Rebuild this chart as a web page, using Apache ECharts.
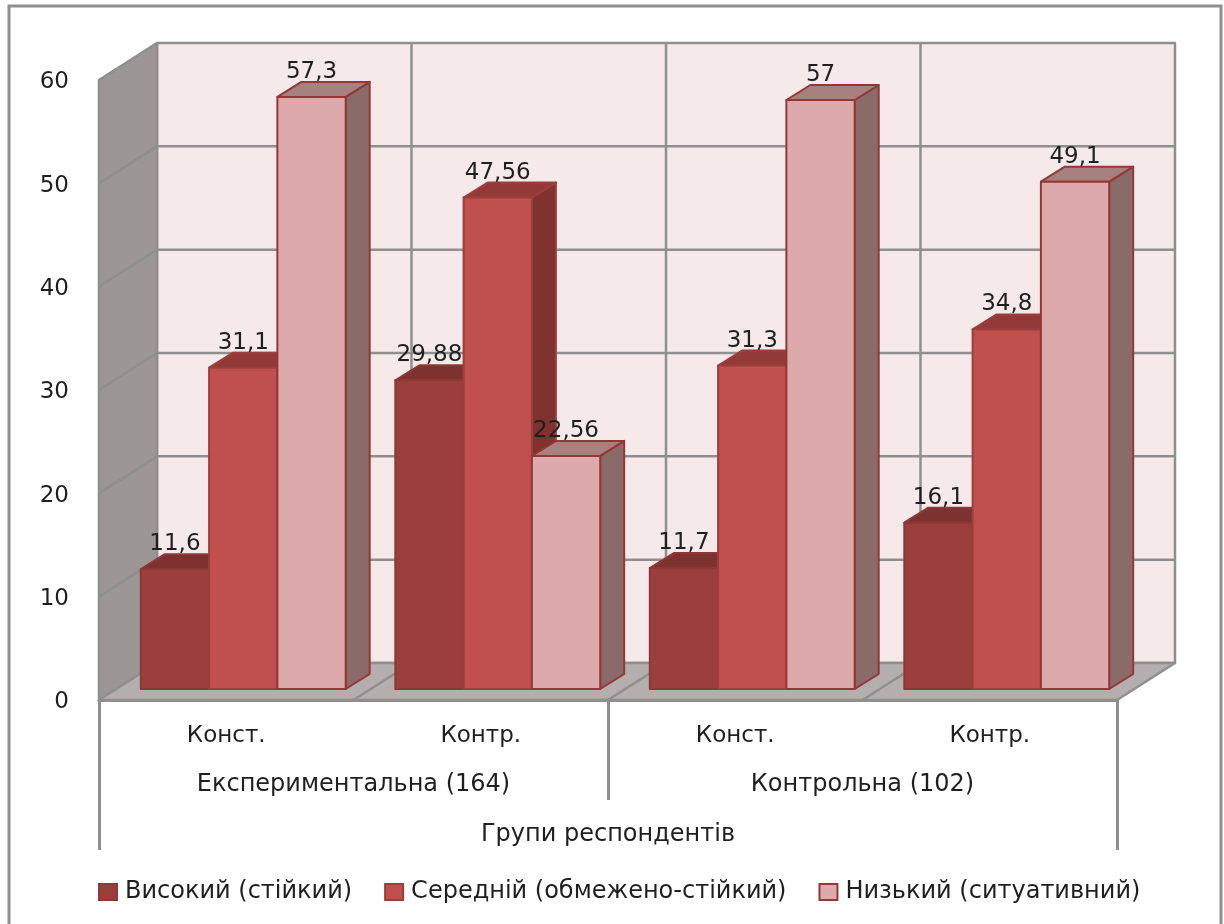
<!DOCTYPE html>
<html>
<head>
<meta charset="utf-8">
<style>html,body{margin:0;padding:0;background:#fff}#chart{width:1224px;height:924px}</style>
<script src="https://cdn.jsdelivr.net/npm/echarts@6/dist/echarts.min.js"></script>
</head>
<body>
<div id="chart"></div>
<script>
// Рівні за групами респондентів
const stages = ['Конст.', 'Контр.', 'Конст.', 'Контр.'];
const groups = ['Експериментальна (164)', 'Контрольна (102)'];
const axisTitle = ['Групи респондентів'];
const highValues = [11.6, 29.88, 11.7, 16.1];
const mediumValues = [31.1, 47.56, 31.3, 34.8];
const lowValues = [57.3, 22.56, 57, 49.1];
const seriesNames = ['Високий (стійкий)', 'Середній (обмежено-стійкий)', 'Низький (ситуативний)'];
const gridValues = [10, 20, 30, 40, 50, 60];

// Псевдо-3D: зсув задньої стінки, зсув стовпчиків від переднього краю та глибина стовпчиків
const WALL = [58, -37];
const BAR_SHIFT = [17, -11];
const BAR_DEPTH = [24, -15];
const GRID_LINE = '#8f8f8f';
const FONT = '"DejaVu Sans", sans-serif';
const TEXT = '#1f1f1f';

const palette = [
  { front: '#9b3f3d', side: '#7d3230', top: '#7d3230', edge: '#8c3836' },
  { front: '#c0504d', side: '#7f3230', top: '#933a38', edge: '#9b3f3d' },
  { front: '#dcaaaa', side: '#8b6b6a', top: '#a68180', edge: '#953735' }
];

const move = (p, d) => [p[0] + d[0], p[1] + d[1]];
const poly = (points, fill, stroke, width, z2) => ({
  type: 'polygon', z2: z2 || 0,
  shape: { points },
  style: { fill, stroke, lineWidth: width || 0, lineJoin: 'round' }
});
const seg = (a, b, z2) => ({
  type: 'line', z2: z2 || 1,
  shape: { x1: a[0], y1: a[1], x2: b[0], y2: b[1] },
  style: { stroke: GRID_LINE, lineWidth: 2.5 }
});

// Стіни та підлога, прив'язані до шкал осей
function renderWalls(params, api) {
  const band = api.size([1, 0])[0];
  const left = api.coord([0, 0])[0] - band / 2;
  const right = left + band * stages.length;
  const y0 = api.coord([0, 0])[1];
  const yMax = api.coord([0, 60])[1];
  const bl = [left, y0], tl = [left, yMax], br = [right, y0];
  const children = [
    poly([move(tl, WALL), [right + WALL[0], yMax + WALL[1]], move(br, WALL), move(bl, WALL)], '#f5e9e9', GRID_LINE, 2.5),
    poly([tl, move(tl, WALL), move(bl, WALL), bl], '#9c9696', GRID_LINE, 2.5),
    poly([bl, move(bl, WALL), move(br, WALL), br], '#b5aeae', GRID_LINE, 2.5)
  ];
  gridValues.slice(0, -1).forEach(v => {
    const y = api.coord([0, v])[1];
    children.push(seg([left, y], [left + WALL[0], y + WALL[1]]));
    children.push(seg([left + WALL[0], y + WALL[1]], [right + WALL[0], y + WALL[1]]));
  });
  for (let k = 1; k < stages.length; k++) {
    const x = left + band * k;
    children.push(seg([x + WALL[0], yMax + WALL[1]], [x + WALL[0], y0 + WALL[1]]));
    children.push(seg([x, y0], [x + WALL[0], y0 + WALL[1]]));
  }
  return { type: 'group', children };
}

// Один паралелепіпед стовпчика з підписом значення
function barRenderer(index) {
  const c = palette[index];
  return function (params, api) {
    const cat = api.value(0), val = api.value(1);
    const band = api.size([1, 0])[0];
    const w = band * 0.805 / 3;
    const center = api.coord([cat, 0])[0] + BAR_SHIFT[0];
    const x0 = center - w * 1.5 + w * index;
    const x1 = x0 + w;
    const yb = api.coord([cat, 0])[1] + BAR_SHIFT[1];
    const yt = api.coord([cat, val])[1] + BAR_SHIFT[1];
    const stroke = 2;
    return {
      type: 'group',
      children: [
        poly([[x1, yt], move([x1, yt], BAR_DEPTH), move([x1, yb], BAR_DEPTH), [x1, yb]], c.side, c.edge, stroke, 10),
        poly([[x0, yt], move([x0, yt], BAR_DEPTH), move([x1, yt], BAR_DEPTH), [x1, yt]], c.top, c.edge, stroke, 10),
        poly([[x0, yt], [x1, yt], [x1, yb], [x0, yb]], c.front, c.edge, stroke, 10),
        {
          type: 'text', z2: 100,
          style: {
            x: (x0 + x1) / 2, y: yt - 25,
            text: String(val).replace('.', ','),
            font: '23px ' + FONT, fill: TEXT,
            textAlign: 'center', textVerticalAlign: 'middle'
          }
        }
      ]
    };
  };
}

const valueSets = [highValues, mediumValues, lowValues];
const chart = echarts.init(document.getElementById('chart'), null, { renderer: 'canvas' });
const legendItem = (name, i) => ({
  name, icon: 'rect',
  itemStyle: { color: palette[i].front, borderColor: palette[i].edge, borderWidth: 2 }
});
const labelBase = { color: TEXT, fontFamily: FONT, fontSize: 24 };

chart.setOption({
  animation: false,
  backgroundColor: '#ffffff',
  graphic: [{
    type: 'polyline', silent: true,
    shape: { points: [[9, 924], [9, 6], [1221, 6], [1221, 924]] },
    style: { stroke: '#8f8f8f', lineWidth: 3, fill: 'none' }
  }],
  grid: { left: 99, top: 80, width: 1018, height: 620, containLabel: false },
  legend: {
    left: 98, top: 880, itemWidth: 18, itemHeight: 16, itemGap: 32, padding: 0,
    textStyle: { color: TEXT, fontFamily: FONT, fontSize: 24, padding: [0, 0, 0, 3] },
    data: seriesNames.map(legendItem)
  },
  xAxis: [
    {
      type: 'category', data: stages, position: 'bottom',
      axisLine: { show: true, lineStyle: { color: GRID_LINE, width: 3 } },
      axisTick: { show: false },
      axisLabel: { ...labelBase, fontSize: 23, margin: 25, interval: 0 }
    },
    {
      type: 'category', data: groups, position: 'bottom',
      axisLine: { show: false },
      axisTick: { show: true, length: 100, lineStyle: { color: GRID_LINE, width: 3 } },
      axisLabel: { ...labelBase, margin: 73, interval: 0 }
    },
    {
      type: 'category', data: axisTitle, position: 'bottom',
      axisLine: { show: false },
      axisTick: { show: true, length: 150, lineStyle: { color: GRID_LINE, width: 3 } },
      axisLabel: { ...labelBase, margin: 123, interval: 0 }
    }
  ],
  yAxis: {
    type: 'value', min: 0, max: 60, interval: 10,
    axisLine: { show: false }, axisTick: { show: false }, splitLine: { show: false },
    axisLabel: {
      margin: 30,
      formatter: '{tick|{value}}',
      rich: { tick: { color: TEXT, fontFamily: FONT, fontSize: 23, lineHeight: 23, padding: [5, 0, 0, 0] } }
    }
  },
  series: [
    {
      type: 'custom', name: 'walls', silent: true, z: 1,
      data: [[0, 0]], encode: { x: 0, y: 1 }, renderItem: renderWalls
    },
    ...seriesNames.map((name, i) => ({
      type: 'custom', name, silent: true, z: 2,
      itemStyle: { color: palette[i].front },
      data: valueSets[i].map((v, c) => [c, v]),
      encode: { x: 0, y: 1 },
      renderItem: barRenderer(i)
    }))
  ]
});
</script>
</body>
</html>
